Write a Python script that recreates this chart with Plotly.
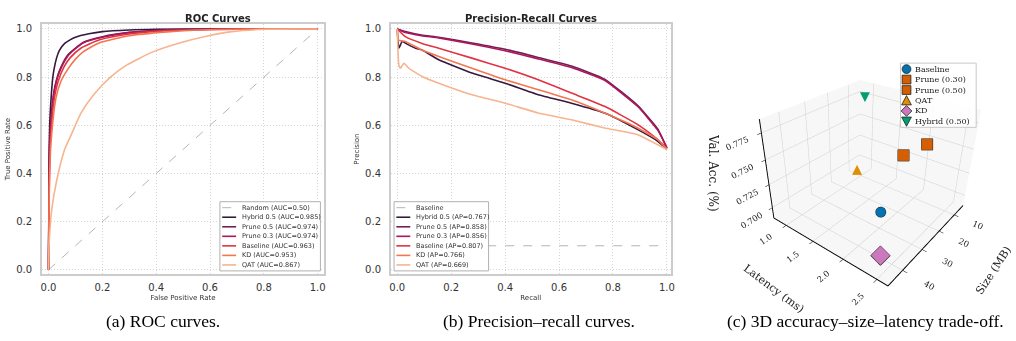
import plotly.graph_objects as go

W, H = 1016, 341

# ---------------- ROC data ----------------
roc_names = ["Hybrid 0.5 (AUC=0.985)", "Prune 0.5 (AUC=0.974)", "Prune 0.3 (AUC=0.974)",
             "Baseline (AUC=0.963)", "KD (AUC=0.953)", "QAT (AUC=0.867)"]
roc_colors = ["#35193e", "#701f57", "#ad1759", "#e13342", "#f37651", "#f6b48f"]

fpr_hybrid = [0, 0.002, 0.005, 0.01, 0.015, 0.02, 0.03, 0.04, 0.06, 0.08, 0.1, 0.15, 0.2, 0.3, 0.4, 0.6, 1.0]
tpr_hybrid = [0, 0.45, 0.62, 0.72, 0.79, 0.83, 0.88, 0.91, 0.94, 0.955, 0.966, 0.98, 0.989, 0.996, 0.999, 1.0, 1.0]
fpr_prune5 = [0, 0.002, 0.005, 0.01, 0.02, 0.03, 0.04, 0.07, 0.1, 0.13, 0.2, 0.3, 0.44, 0.6, 1.0]
tpr_prune5 = [0, 0.38, 0.55, 0.64, 0.74, 0.79, 0.825, 0.89, 0.92, 0.945, 0.968, 0.986, 0.996, 0.999, 1.0]
fpr_prune3 = [0, 0.002, 0.005, 0.01, 0.02, 0.03, 0.04, 0.07, 0.1, 0.13, 0.2, 0.3, 0.44, 0.6, 1.0]
tpr_prune3 = [0, 0.36, 0.53, 0.63, 0.73, 0.785, 0.82, 0.885, 0.918, 0.943, 0.966, 0.985, 0.995, 0.999, 1.0]
fpr_base = [0, 0.002, 0.005, 0.01, 0.02, 0.035, 0.058, 0.08, 0.12, 0.19, 0.3, 0.44, 0.6, 0.8, 1.0]
tpr_base = [0, 0.3, 0.47, 0.58, 0.7, 0.78, 0.844, 0.88, 0.92, 0.955, 0.979, 0.993, 0.998, 1.0, 1.0]
fpr_kd = [0, 0.002, 0.005, 0.01, 0.027, 0.045, 0.07, 0.1, 0.13, 0.19, 0.3, 0.44, 0.56, 0.8, 1.0]
tpr_kd = [0, 0.27, 0.43, 0.54, 0.71, 0.78, 0.83, 0.875, 0.906, 0.943, 0.972, 0.988, 0.996, 1.0, 1.0]
fpr_qat = [0, 0.002, 0.005, 0.01, 0.02, 0.04, 0.06, 0.088, 0.12, 0.17, 0.23, 0.29, 0.39, 0.49, 0.586, 0.68, 0.81, 1.0]
tpr_qat = [0, 0.1, 0.16, 0.23, 0.31, 0.42, 0.5, 0.57, 0.65, 0.73, 0.8, 0.85, 0.906, 0.943, 0.97, 0.989, 0.999, 1.0]

roc_fpr = [fpr_hybrid, fpr_prune5, fpr_prune3, fpr_base, fpr_kd, fpr_qat]
roc_tpr = [tpr_hybrid, tpr_prune5, tpr_prune3, tpr_base, tpr_kd, tpr_qat]

# ---------------- PR data ----------------
pr_names = ["Hybrid 0.5 (AP=0.767)", "Prune 0.5 (AP=0.858)", "Prune 0.3 (AP=0.856)",
            "Baseline (AP=0.807)", "KD (AP=0.766)", "QAT (AP=0.669)"]

rec_hybrid = [0, 0.006, 0.018, 0.04, 0.068, 0.092, 0.154, 0.277, 0.4, 0.523, 0.646, 0.769, 0.892, 0.966, 1.0]
prec_hybrid = [1.0, 0.92, 0.948, 0.935, 0.92, 0.913, 0.872, 0.817, 0.775, 0.727, 0.692, 0.651, 0.582, 0.534, 0.5]
rec_prune5 = [0, 0.03, 0.09, 0.154, 0.277, 0.4, 0.523, 0.646, 0.769, 0.892, 0.966, 1.0]
prec_prune5 = [1.0, 0.99, 0.975, 0.966, 0.942, 0.916, 0.882, 0.846, 0.792, 0.682, 0.585, 0.506]
rec_prune3 = [0, 0.03, 0.09, 0.154, 0.277, 0.4, 0.523, 0.646, 0.769, 0.892, 0.966, 1.0]
prec_prune3 = [1.0, 0.985, 0.972, 0.963, 0.938, 0.91, 0.876, 0.84, 0.787, 0.678, 0.58, 0.506]
rec_base = [0, 0.03, 0.092, 0.154, 0.277, 0.4, 0.523, 0.646, 0.769, 0.892, 0.966, 1.0]
prec_base = [1.0, 0.968, 0.94, 0.92, 0.879, 0.837, 0.789, 0.734, 0.679, 0.603, 0.541, 0.506]
rec_kd = [0, 0.004, 0.03, 0.092, 0.154, 0.277, 0.4, 0.523, 0.646, 0.769, 0.892, 0.966, 1.0]
prec_kd = [1.0, 0.954, 0.948, 0.913, 0.886, 0.837, 0.789, 0.748, 0.706, 0.651, 0.589, 0.541, 0.5]
rec_qat = [0, 0.006, 0.012, 0.025, 0.043, 0.092, 0.154, 0.277, 0.4, 0.523, 0.646, 0.769, 0.892, 1.0]
prec_qat = [1.0, 0.851, 0.837, 0.858, 0.837, 0.803, 0.775, 0.727, 0.692, 0.651, 0.623, 0.589, 0.561, 0.499]

pr_rec = [rec_hybrid, rec_prune5, rec_prune3, rec_base, rec_kd, rec_qat]
pr_prec = [prec_hybrid, prec_prune5, prec_prune3, prec_base, prec_kd, prec_qat]
pr_chance = 0.1

# ---------------- 3D trade-off data ----------------
tr_names = ["Baseline", "Prune (0.30)", "Prune (0.50)", "QAT", "KD", "Hybrid (0.50)"]
tr_size = [44.7, 31.0, 22.0, 11.2, 44.7, 5.6]
tr_latency = [2.45, 2.31, 2.38, 0.96, 2.47, 0.91]
tr_acc = [0.747, 0.771, 0.771, 0.696, 0.707, 0.773]
tr_colors = ["#0173b2", "#d55e00", "#d55e00", "#de8f05", "#cc78bc", "#029e73"]
tr_symbols = ["circle", "square", "square", "tri-up", "diamond", "tri-down"]

ticks01 = [0, 0.2, 0.4, 0.6, 0.8, 1.0]
tick01_text = ["0.0", "0.2", "0.4", "0.6", "0.8", "1.0"]
captions = ["(a) ROC curves.", "(b) Precision\u2013recall curves.",
            "(c) 3D accuracy\u2013size\u2013latency trade-off."]


def fx(x):
    return x / W


def fy(y):
    return 1 - y / H


fig = go.Figure()

# ROC traces
fig.add_trace(go.Scatter(x=[0, 1], y=[0, 1], mode="lines", line=dict(color="#b5b5b5", width=1, dash="dash"),
                         showlegend=False, xaxis="x", yaxis="y", hoverinfo="skip"))
for xs, ys, c in zip(roc_fpr, roc_tpr, roc_colors):
    fig.add_trace(go.Scatter(x=xs, y=ys, mode="lines", line=dict(color=c, width=1.6, shape="spline", smoothing=0.6),
                             showlegend=False, xaxis="x", yaxis="y"))

# PR traces
fig.add_trace(go.Scatter(x=[0, 1], y=[pr_chance, pr_chance], mode="lines",
                         line=dict(color="#b5b5b5", width=1, dash="dash"),
                         showlegend=False, xaxis="x2", yaxis="y2", hoverinfo="skip"))
for xs, ys, c in zip(pr_rec, pr_prec, roc_colors):
    fig.add_trace(go.Scatter(x=xs, y=ys, mode="lines", line=dict(color=c, width=1.6, shape="spline", smoothing=0.4),
                             showlegend=False, xaxis="x2", yaxis="y2"))

# 3D traces
for i in range(len(tr_names)):
    sym = tr_symbols[i]
    if sym in ("tri-up", "tri-down"):
        fig.add_trace(go.Scatter3d(x=[tr_size[i]], y=[tr_latency[i]], z=[tr_acc[i]], mode="text",
                                   text=["\u25B2" if sym == "tri-up" else "\u25BC"],
                                   textfont=dict(color=tr_colors[i], size=13, family="DejaVu Sans"),
                                   textposition="middle center", showlegend=False, scene="scene"))
    else:
        fig.add_trace(go.Scatter3d(x=[tr_size[i]], y=[tr_latency[i]], z=[tr_acc[i]], mode="markers",
                                   marker=dict(symbol=sym, size=6 if sym != "diamond" else 6.5, color=tr_colors[i],
                                               line=dict(color="#222222", width=1)),
                                   showlegend=False, scene="scene"))

axis2d = dict(showgrid=True, gridcolor="#d6d6d6", griddash="1px,2px", gridwidth=1, zeroline=False,
              showline=True, mirror=True, linecolor="#cccccc", linewidth=1.5, ticks="",
              tickfont=dict(family="DejaVu Sans", size=10, color="#333333"),
              tickvals=ticks01, ticktext=tick01_text)

ydom = [fy(275), fy(24)]
fig.update_layout(
    width=W, height=H, margin=dict(l=0, r=0, t=0, b=0), paper_bgcolor="white", plot_bgcolor="white",
    showlegend=False,
    xaxis=dict(axis2d, domain=[fx(41), fx(325)], range=[-0.025, 1.025], ticklabelstandoff=3,
               title=dict(text="False Positive Rate", font=dict(size=7, family="DejaVu Sans", color="#333"), standoff=3)),
    yaxis=dict(axis2d, domain=ydom, range=[-0.018, 1.021], ticklabelstandoff=6,
               title=dict(text="True Positive Rate", font=dict(size=7, family="DejaVu Sans", color="#333"), standoff=5)),
    xaxis2=dict(axis2d, domain=[fx(391.7), fx(673)], range=[-0.024, 1.014], anchor="y2", ticklabelstandoff=3,
                title=dict(text="Recall", font=dict(size=7, family="DejaVu Sans", color="#333"), standoff=3)),
    yaxis2=dict(axis2d, domain=ydom, range=[-0.018, 1.021], anchor="x2", ticklabelstandoff=6,
                title=dict(text="Precision", font=dict(size=7, family="DejaVu Sans", color="#333"), standoff=5)),
)

ax3 = dict(showbackground=True, backgroundcolor="#f7f7f7", gridcolor="#cfcfcf", gridwidth=1,
           showline=True, linecolor="black", linewidth=2, zeroline=False, showspikes=False,
           ticks="outside", ticklen=4, tickcolor="black",
           tickfont=dict(family="DejaVu Serif", size=10, color="#222"))
cshift = (0.07, -0.088)
fig.update_layout(scene=dict(
    domain=dict(x=[0.69, 1.0], y=[0.04, 0.94]),
    xaxis=dict(ax3, title=dict(text="Size (MB)", font=dict(family="DejaVu Serif", size=11, color="#222")),
               range=[3.6, 46.7], tickvals=[10, 20, 30, 40]),
    yaxis=dict(ax3, title=dict(text="Latency (ms)", font=dict(family="DejaVu Serif", size=11, color="#222")),
               range=[0.75, 2.65], tickvals=[1.0, 1.5, 2.0, 2.5], ticktext=["1.0", "1.5", "2.0", "2.5"]),
    zaxis=dict(ax3, title=dict(text=""),
               range=[0.688, 0.787], tickvals=[0.700, 0.725, 0.750, 0.775],
               ticktext=["0.700", "0.725", "0.750", "0.775"]),
    aspectmode="manual", aspectratio=dict(x=1, y=1, z=0.77),
    camera=dict(eye=dict(x=1.7 + cshift[0], y=1.37 + cshift[1], z=1.29),
                center=dict(x=cshift[0], y=cshift[1], z=-0.05)),
    bgcolor="white",
))

shapes = []
annotations = []

# Titles
annotations.append(dict(text="<b>ROC Curves</b>", x=fx(183), y=fy(11), xref="paper", yref="paper",
                        showarrow=False, font=dict(family="DejaVu Sans", size=10, color="#222")))
annotations.append(dict(text="<b>Precision-Recall Curves</b>", x=fx(533), y=fy(11), xref="paper", yref="paper",
                        showarrow=False, font=dict(family="DejaVu Sans", size=10, color="#222")))
# 3D vertical axis title
annotations.append(dict(text="Val. Acc. (%)", x=fx(715), y=fy(174), xref="paper", yref="paper",
                        xanchor="center", yanchor="middle", showarrow=False, textangle=90,
                        font=dict(family="DejaVu Serif", size=12, color="#222")))


def line_legend(x0, y0, x1, y1, labels, colors, dash_label):
    shapes.append(dict(type="rect", xref="paper", yref="paper", x0=fx(x0), x1=fx(x1), y0=fy(y1), y1=fy(y0),
                       fillcolor="rgba(255,255,255,0.9)", line=dict(color="#b0b0b0", width=1), layer="above"))
    rows = [dash_label] + labels
    cols = ["#b5b5b5"] + colors
    for i, (lab, c) in enumerate(zip(rows, cols)):
        yy = y0 + 6 + i * 9.57
        shapes.append(dict(type="line", xref="paper", yref="paper", x0=fx(x0 + 2.3), x1=fx(x0 + 16.3),
                           y0=fy(yy), y1=fy(yy), layer="above",
                           line=dict(color=c, width=1 if i == 0 else 1.6, dash="dash" if i == 0 else "solid")))
        annotations.append(dict(text=lab, x=fx(x0 + 20.5), y=fy(yy), xref="paper", yref="paper",
                                xanchor="left", yanchor="middle", showarrow=False,
                                font=dict(family="DejaVu Sans", size=6.5, color="#333")))


line_legend(220, 202.3, 321, 271.7, roc_names, roc_colors, "Random (AUC=0.50)")
line_legend(395, 202.3, 490, 271.7, pr_names, roc_colors, "Baseline")

# 3D legend
lx0, ly0, lx1, ly1 = 904, 63.3, 980, 127.7
shapes.append(dict(type="rect", xref="paper", yref="paper", x0=fx(lx0), x1=fx(lx1), y0=fy(ly1), y1=fy(ly0),
                   fillcolor="rgba(255,255,255,0.85)", line=dict(color="#c8c8c8", width=1), layer="above"))
for i, (lab, c, sym) in enumerate(zip(tr_names, tr_colors, tr_symbols)):
    yy = 69.3 + i * 10.5
    cx, r = 910, 4.4
    mline = dict(color="#222", width=0.8)
    if sym == "circle":
        shapes.append(dict(type="circle", xref="paper", yref="paper", x0=fx(cx - r), x1=fx(cx + r),
                           y0=fy(yy + r), y1=fy(yy - r), fillcolor=c, line=mline, layer="above"))
    elif sym == "square":
        shapes.append(dict(type="rect", xref="paper", yref="paper", x0=fx(cx - r), x1=fx(cx + r),
                           y0=fy(yy + r), y1=fy(yy - r), fillcolor=c, line=mline, layer="above"))
    else:
        if sym == "tri-up":
            pts = [(cx, yy - r - 0.5), (cx + r + 0.5, yy + r), (cx - r - 0.5, yy + r)]
        elif sym == "tri-down":
            pts = [(cx, yy + r + 0.5), (cx + r + 0.5, yy - r), (cx - r - 0.5, yy - r)]
        else:
            pts = [(cx, yy - r - 1), (cx + r + 1, yy), (cx, yy + r + 1), (cx - r - 1, yy)]
        path = "M " + " L ".join(f"{fx(a):.5f},{fy(b):.5f}" for a, b in pts) + " Z"
        shapes.append(dict(type="path", xref="paper", yref="paper", path=path, fillcolor=c, line=mline,
                           layer="above"))
    annotations.append(dict(text=lab, x=fx(916.5), y=fy(yy), xref="paper", yref="paper", xanchor="left",
                            yanchor="middle", showarrow=False,
                            font=dict(family="DejaVu Serif", size=8, color="#222")))

# Captions
for cxp, txt in zip([163, 541, 869], captions):
    annotations.append(dict(text=txt, x=fx(cxp), y=fy(322), xref="paper", yref="paper", showarrow=False,
                            xanchor="center", yanchor="middle",
                            font=dict(family="Liberation Serif", size=17.5, color="black")))

fig.update_layout(shapes=shapes, annotations=annotations)
fig.write_html("out.html")
